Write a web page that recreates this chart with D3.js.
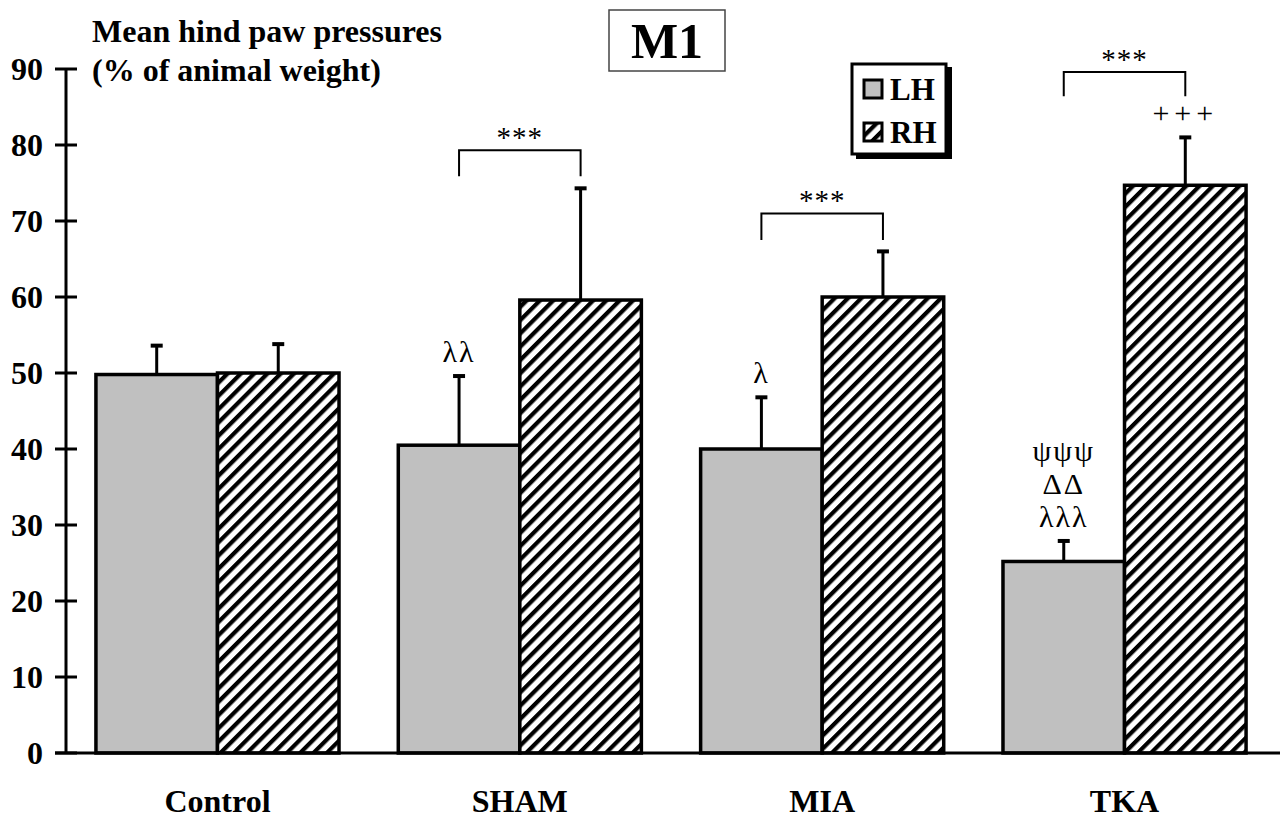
<!DOCTYPE html>
<html><head><meta charset="utf-8">
<script src="https://cdn.jsdelivr.net/npm/d3@7"></script>
<style>body{margin:0;background:#fff}svg{display:block}</style>
</head><body>
<script>
const categories = ["Control", "SHAM", "MIA", "TKA"];
const series = ["LH", "RH"];
const lhValues = [49.8, 40.5, 40.0, 25.2];
const rhValues = [50.0, 59.6, 60.0, 74.7];
const lhErr = [3.8, 9.1, 6.8, 2.7];
const rhErr = [3.8, 14.7, 6.0, 6.3];
const yTicks = [0, 10, 20, 30, 40, 50, 60, 70, 80, 90];
// significance brackets: [category, top level, leg level, label]
const brackets = [["SHAM", 79.3, 75.9, "***"], ["MIA", 71.0, 67.5, "***"], ["TKA", 89.6, 86.4, "***"]];
// annotations above bars: [category, series, lines (bottom->top)]
const annotations = [
  ["SHAM", "LH", ["λλ"]],
  ["MIA", "LH", ["λ"]],
  ["TKA", "LH", ["λλλ", "ΔΔ", "ψψψ"]],
  ["TKA", "RH", ["+++"]]
];

const W = 1284, H = 820;
const svg = d3.select("body").append("svg").attr("width", W).attr("height", H);
const serif = "'Liberation Serif','Times New Roman',serif";

const defs = svg.append("defs");
const P = 9.4;
const pat = defs.append("pattern").attr("id", "hatch").attr("patternUnits", "userSpaceOnUse")
  .attr("width", P).attr("height", P).attr("patternTransform", "rotate(45)");
pat.append("rect").attr("width", P).attr("height", P).attr("fill", "#fff");
pat.append("line").attr("x1", 0).attr("y1", 0).attr("x2", 0).attr("y2", P).attr("stroke", "#000").attr("stroke-width", 8.4);

const y = d3.scaleLinear().domain([0, 90]).range([753, 69]);
const x0 = d3.scaleBand().domain(categories).range([66, 1276]).paddingInner(0.196).paddingOuter(0.099);
const x1 = d3.scaleBand().domain(series).range([0, x0.bandwidth()]);

const data = categories.map((c, i) => ({c, vals: [
  {s: "LH", v: lhValues[i], e: lhErr[i]},
  {s: "RH", v: rhValues[i], e: rhErr[i]}]}));

const g = svg.append("g");
data.forEach(d => {
  d.vals.forEach(b => {
    const bx = x0(d.c) + x1(b.s);
    const cx = bx + x1.bandwidth() / 2;
    g.append("line").attr("x1", cx).attr("x2", cx).attr("y1", y(b.v)).attr("y2", y(b.v + b.e))
      .attr("stroke", "#000").attr("stroke-width", 3);
    g.append("line").attr("x1", cx - 6).attr("x2", cx + 6).attr("y1", y(b.v + b.e)).attr("y2", y(b.v + b.e))
      .attr("stroke", "#000").attr("stroke-width", 4);
  });
});
data.forEach(d => {
  d.vals.forEach(b => {
    const bx = x0(d.c) + x1(b.s);
    g.append("rect").attr("x", bx).attr("y", y(b.v)).attr("width", x1.bandwidth()).attr("height", y(0) - y(b.v))
      .attr("fill", b.s === "LH" ? "#c0c0c0" : "url(#hatch)").attr("stroke", "#000").attr("stroke-width", 3.5);
  });
});

// axes
svg.append("line").attr("x1", 66).attr("x2", 66).attr("y1", y(90)).attr("y2", y(0)).attr("stroke", "#000").attr("stroke-width", 3);
svg.append("line").attr("x1", 55).attr("x2", 1280).attr("y1", y(0)).attr("y2", y(0)).attr("stroke", "#000").attr("stroke-width", 3);
yTicks.forEach(t => {
  svg.append("line").attr("x1", 55).attr("x2", 77).attr("y1", y(t)).attr("y2", y(t)).attr("stroke", "#000").attr("stroke-width", 3);
  svg.append("text").attr("x", 43).attr("y", y(t)).attr("dy", "0.35em").attr("text-anchor", "end")
    .attr("font-family", serif).attr("font-weight", "bold").attr("font-size", 32).text(t);
});
const xAxis = d3.axisBottom(x0).tickSize(0).tickPadding(0);
const xa = svg.append("g").attr("transform", `translate(0,${y(0)})`).call(xAxis);
xa.select(".domain").remove();
xa.selectAll("text").attr("y", 59).attr("dy", 0).attr("font-family", serif).attr("font-weight", "bold").attr("font-size", 32).attr("fill", "#000");

// y label
svg.append("text").attr("x", 92).attr("y", 42).attr("font-family", serif).attr("font-weight", "bold").attr("font-size", 32).text("Mean hind paw pressures");
svg.append("text").attr("x", 92).attr("y", 81).attr("font-family", serif).attr("font-weight", "bold").attr("font-size", 32).text("(% of animal weight)");

// title box
svg.append("rect").attr("x", 609).attr("y", 10).attr("width", 116).attr("height", 61).attr("fill", "#fff").attr("stroke", "#444").attr("stroke-width", 1.5);
svg.append("text").attr("x", 667).attr("y", 58).attr("text-anchor", "middle").attr("font-family", serif).attr("font-weight", "bold").attr("font-size", 50).text("M1");

// legend
svg.append("rect").attr("x", 856).attr("y", 67).attr("width", 96).attr("height", 92).attr("fill", "#000");
svg.append("rect").attr("x", 852).attr("y", 64).attr("width", 94).attr("height", 90).attr("fill", "#fff").attr("stroke", "#000").attr("stroke-width", 3);
series.forEach((s, i) => {
  const ly = 80 + i * 43;
  svg.append("rect").attr("x", 864).attr("y", ly).attr("width", 18).attr("height", 18)
    .attr("fill", s === "LH" ? "#c0c0c0" : "url(#hatch)").attr("stroke", "#000").attr("stroke-width", 3);
  svg.append("text").attr("x", 890).attr("y", ly + 20).attr("font-family", serif).attr("font-weight", "bold").attr("font-size", 31).text(s);
});

// brackets
const cxOf = (c, s) => x0(c) + x1(s) + x1.bandwidth() / 2;
brackets.forEach(([c, top, leg, lab]) => {
  const xa_ = cxOf(c, "LH"), xb = cxOf(c, "RH");
  svg.append("path").attr("d", `M${xa_},${y(leg)}V${y(top)}H${xb}V${y(leg)}`).attr("fill", "none").attr("stroke", "#000").attr("stroke-width", 2);
  svg.append("text").attr("x", (xa_ + xb) / 2).attr("y", y(top) - 3).attr("text-anchor", "middle")
    .attr("font-family", serif).attr("font-size", 29).attr("letter-spacing", 1).text(lab);
});

// annotations
annotations.forEach(([c, s, lines]) => {
  const i = categories.indexOf(c);
  const v = s === "LH" ? lhValues[i] + lhErr[i] : rhValues[i] + rhErr[i];
  lines.forEach((t, k) => {
    svg.append("text").attr("x", cxOf(c, s)).attr("y", y(v) - 14 - k * 33).attr("text-anchor", "middle")
      .attr("font-family", serif).attr("font-size", 30).attr("letter-spacing", t === "+++" ? 5 : 2).text(t);
  });
});
</script>
</body></html>
